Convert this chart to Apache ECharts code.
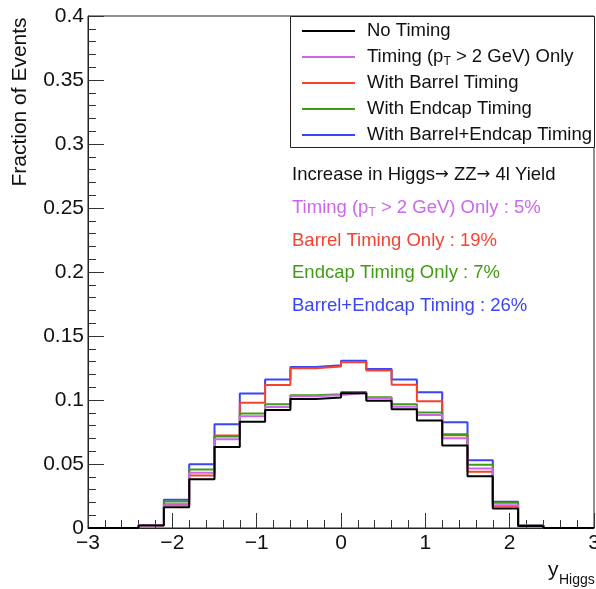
<!DOCTYPE html>
<html>
<head>
<meta charset="utf-8">
<script src="https://cdn.jsdelivr.net/npm/echarts@6/dist/echarts.min.js"></script>
<style>
  html, body { margin: 0; padding: 0; background: #fff; }
  #chart { width: 596px; height: 589px; }
</style>
</head>
<body>
<div id="chart"></div>
<script>
// Histogram binning in Higgs rapidity (20 bins of width 0.3)
const binEdges = [-3, -2.7, -2.4, -2.1, -1.8, -1.5, -1.2, -0.9, -0.6, -0.3, 0,
                  0.3, 0.6, 0.9, 1.2, 1.5, 1.8, 2.1, 2.4, 2.7, 3];

// Fraction of events per bin
const noTiming      = [0, 0, 0.0020, 0.0162, 0.0380, 0.0632, 0.0830, 0.0922, 0.1008, 0.1020,
                       0.1052, 0.0995, 0.0928, 0.0839, 0.0645, 0.0405, 0.0152, 0.0016, 0, 0];
const timingPtOnly  = [0, 0, 0.0022, 0.0178, 0.0432, 0.0693, 0.0873, 0.0946, 0.1030, 0.1040,
                       0.1055, 0.1013, 0.0948, 0.0882, 0.0702, 0.0465, 0.0178, 0.0018, 0, 0];
const barrelTiming  = [0, 0, 0.0022, 0.0185, 0.0411, 0.0722, 0.0979, 0.1117, 0.1248, 0.1262,
                       0.1294, 0.1230, 0.1120, 0.0990, 0.0725, 0.0440, 0.0170, 0.0018, 0, 0];
const endcapTiming  = [0, 0, 0.0023, 0.0208, 0.0458, 0.0714, 0.0895, 0.0966, 0.1037, 0.1045,
                       0.1062, 0.1021, 0.0967, 0.0902, 0.0732, 0.0495, 0.0198, 0.0020, 0, 0];
const barrelEndcap  = [0, 0, 0.0024, 0.0220, 0.0498, 0.0810, 0.1050, 0.1160, 0.1258, 0.1272,
                       0.1307, 0.1242, 0.1160, 0.1060, 0.0826, 0.0530, 0.0205, 0.0021, 0, 0];

// Series names ("_" marks a subscript character)
const seriesNames = ['No Timing', 'Timing (p_T > 2 GeV) Only', 'With Barrel Timing',
                     'With Endcap Timing', 'With Barrel+Endcap Timing'];
const seriesValues = [noTiming, timingPtOnly, barrelTiming, endcapTiming, barrelEndcap];
const seriesColors = ['#000000', '#cc66ee', '#f5432f', '#419b14', '#3a45f5'];

// Axis ticks
const xTickValues = [-3, -2, -1, 0, 1, 2, 3];
const xTickLabels = ['\u22123', '\u22122', '\u22121', '0', '1', '2', '3'];
const yTickValues = [0, 0.05, 0.1, 0.15, 0.2, 0.25, 0.3, 0.35, 0.4];
const yTickLabels = ['0', '0.05', '0.1', '0.15', '0.2', '0.25', '0.3', '0.35', '0.4'];

// Yield summary text
const yieldTitleParts = ['Increase in Higgs', ' ZZ', ' 4l Yield'];
const yieldLabels = ['Timing (p_T > 2 GeV) Only', 'Barrel Timing Only', 'Endcap Timing Only', 'Barrel+Endcap Timing'];
const yieldPercents = [5, 19, 7, 26];
const yieldColors = ['#cc66ee', '#f5432f', '#419b14', '#3a45f5'];

const FONT = '"Liberation Sans", Arial, Helvetica, sans-serif';
const FS = 18.5;

function richSub(s) {
  const parts = s.split('_');
  if (parts.length === 1) return '{n|' + s + '}';
  return '{n|' + parts[0] + '}{s|' + parts[1][0] + '}{n|' + parts[1].slice(1) + '}';
}
function lookup(values, labels, v) {
  for (let i = 0; i < values.length; i++) {
    if (Math.abs(values[i] - v) < 1e-6) return labels[i];
  }
  return '';
}
function stepData(vals) {
  const d = vals.map((v, i) => [binEdges[i], v]);
  d.push([binEdges[binEdges.length - 1], vals[vals.length - 1]]);
  return d;
}

const richStyles = (fs, color) => ({
  n: { fontSize: fs, fontFamily: FONT, color: color, lineHeight: 22 },
  s: { fontSize: 12, fontFamily: FONT, color: color, lineHeight: 6, verticalAlign: 'bottom' },
  a: { fontSize: fs - 2, fontFamily: '"DejaVu Sans", sans-serif', color: color, lineHeight: 22 }
});

// draw order: black histogram last so it sits on top
const drawOrder = [4, 2, 3, 1, 0];
const series = drawOrder.map((i, k) => ({
  name: seriesNames[i],
  type: 'line',
  step: 'end',
  symbol: 'none',
  color: seriesColors[i],
  lineStyle: { width: 2, color: seriesColors[i] },
  data: stepData(seriesValues[i]),
  z: 3 + k
}));

const graphics = [
  {
    type: 'rect', z: 10,
    shape: { x: 290.5, y: 16.5, width: 304, height: 131 },
    style: { fill: '#ffffff', stroke: '#222222', lineWidth: 1 }
  },
  {
    type: 'text', z: 12, x: 292, y: 175,
    style: {
      text: '{n|' + yieldTitleParts[0] + '}{a|\u2192}{n|' + yieldTitleParts[1] + '}{a|\u2192}{n|' + yieldTitleParts[2] + '}',
      fill: '#111111', align: 'left', verticalAlign: 'middle',
      rich: richStyles(FS, '#111111')
    }
  },
  {
    type: 'text', z: 12, x: 20.5, y: 102, rotation: Math.PI / 2,
    style: { text: 'Fraction of Events', fill: '#111111', font: '21px ' + FONT, align: 'center', verticalAlign: 'middle' }
  },
  {
    type: 'text', z: 12, x: 548, y: 570.5,
    style: { text: 'y', fill: '#111111', font: '21px ' + FONT, align: 'left', verticalAlign: 'middle' }
  },
  {
    type: 'text', z: 12, x: 559, y: 580,
    style: { text: 'Higgs', fill: '#111111', font: '14px ' + FONT, align: 'left', verticalAlign: 'middle' }
  }
];
yieldLabels.forEach((lab, i) => {
  graphics.push({
    type: 'text', z: 12, x: 292, y: 208 + i * 32.5,
    style: {
      text: richSub(lab + ' : ' + yieldPercents[i] + '%'),
      fill: yieldColors[i], align: 'left', verticalAlign: 'middle',
      rich: richStyles(FS, yieldColors[i])
    }
  });
});

const chart = echarts.init(document.getElementById('chart'), null, { renderer: 'canvas' });
chart.setOption({
  animation: false,
  backgroundColor: '#ffffff',
  grid: {
    left: 88, right: 2, top: 16, bottom: 61,
    show: true, borderColor: '#222222', borderWidth: 1,
    outerBoundsMode: 'none', containLabel: false
  },
  xAxis: {
    type: 'value', min: -3, max: 3, interval: 1,
    axisLine: { show: true, onZero: false, lineStyle: { color: '#222222', width: 1 } },
    axisTick: { show: true, inside: true, length: 15, lineStyle: { color: '#333333' } },
    minorTick: { show: true, splitNumber: 5, length: 8, lineStyle: { color: '#333333' } },
    splitLine: { show: false },
    axisLabel: {
      show: true, margin: 5, fontSize: 21, fontFamily: FONT, color: '#111111',
      showMinLabel: true, showMaxLabel: true, hideOverlap: false,
      formatter: v => lookup(xTickValues, xTickLabels, v)
    }
  },
  yAxis: {
    type: 'value', min: 0, max: 0.4, interval: 0.05,
    axisLine: { show: true, onZero: false, lineStyle: { color: '#222222', width: 1 } },
    axisTick: { show: true, inside: true, length: 16, lineStyle: { color: '#333333' } },
    minorTick: { show: true, splitNumber: 5, length: 8, lineStyle: { color: '#333333' } },
    splitLine: { show: false },
    axisLabel: {
      show: true, margin: 4, fontSize: 21, fontFamily: FONT, color: '#111111',
      showMinLabel: true, showMaxLabel: true, hideOverlap: false,
      formatter: v => lookup(yTickValues, yTickLabels, v)
    }
  },
  legend: {
    show: true, orient: 'vertical', left: 290, top: 16, z: 20,
    padding: [4, 0, 0, 12], itemGap: 4,
    itemWidth: 53, itemHeight: 2, icon: 'rect',
    data: seriesNames,
    selectedMode: false,
    formatter: name => richSub(name),
    textStyle: {
      fontSize: FS, fontFamily: FONT, color: '#111111', lineHeight: 22,
      padding: [0, 0, 0, 7],
      rich: richStyles(FS, '#111111')
    }
  },
  graphic: graphics,
  series: series
});
</script>
</body>
</html>
